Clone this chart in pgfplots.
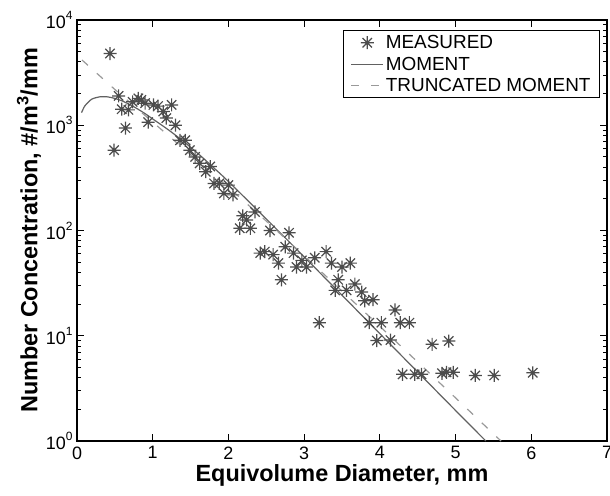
\documentclass[border=0pt]{standalone}
\usepackage{fontspec}
\setmainfont{Liberation Sans}
\usepackage{pgfplots}
\pgfplotsset{compat=1.18}
\pgfdeclareplotmark{ast8}{%
 \pgfpathmoveto{\pgfqpoint{-\pgfplotmarksize}{0pt}}\pgfpathlineto{\pgfqpoint{\pgfplotmarksize}{0pt}}%
 \pgfpathmoveto{\pgfqpoint{0pt}{-\pgfplotmarksize}}\pgfpathlineto{\pgfqpoint{0pt}{\pgfplotmarksize}}%
 \pgfpathmoveto{\pgfqpoint{-0.72\pgfplotmarksize}{-0.72\pgfplotmarksize}}\pgfpathlineto{\pgfqpoint{0.72\pgfplotmarksize}{0.72\pgfplotmarksize}}%
 \pgfpathmoveto{\pgfqpoint{-0.72\pgfplotmarksize}{0.72\pgfplotmarksize}}\pgfpathlineto{\pgfqpoint{0.72\pgfplotmarksize}{-0.72\pgfplotmarksize}}%
 \pgfusepathqstroke}
\definecolor{markc}{gray}{0.30}
\definecolor{solidc}{gray}{0.38}
\definecolor{dashc}{gray}{0.60}
\newcommand\tk[1]{\mbox{\fontsize{18}{20}\selectfont #1}}
\newcommand\ytk[1]{\mbox{\fontsize{18}{20}\selectfont 10\raisebox{0.5em}{\fontsize{12}{13}\selectfont #1}}}
\pgfplotsset{
 linelegend/.style={legend image code/.code={\draw[##1] (0bp,0bp) -- (32bp,0bp);}},
 marklegend/.style={legend image code/.code={\draw[##1] plot coordinates {(16bp,0bp)};}}
}
\begin{document}
\begin{tikzpicture}
\begin{axis}[name=ax, scale only axis, width=530bp, height=421bp,
  ymode=log, xmin=0, xmax=7, ymin=1, ymax=10000,
  xtick={0,1,2,3,4,5,6,7}, minor x tick num=0,
  xticklabels={\tk{0},\tk{1},\tk{2},\tk{3},\tk{4},\tk{5},\tk{6},\tk{7}},
  ytick={1,10,100,1000,10000},
  yticklabels={\ytk{0},\ytk{1},\ytk{2},\ytk{3},\ytk{4}},
  minor ytick={2,3,4,5,6,7,8,9,20,30,40,50,60,70,80,90,200,300,400,500,600,700,800,900,2000,3000,4000,5000,6000,7000,8000,9000},
  tick align=inside, xtick pos=both, ytick pos=both,
  major tick length=7bp, minor tick length=4bp,
  axis line style={line width=1.1bp},
  every tick/.style={black, line width=0.9bp},
  xticklabel style={yshift=-2bp},
  yticklabel style={xshift=-1bp},
  xlabel={Equivolume Diameter, mm},
  ylabel={Number Concentration, \#/m\textsuperscript{3}/mm},
  label style={font=\fontsize{23.5}{25}\selectfont\bfseries},
  xlabel style={yshift=2bp},
  ylabel style={yshift=-2bp},
  legend style={at={(1,1)}, anchor=north east, xshift=-7bp, yshift=-10bp,
    draw=black, line width=0.9bp, font=\fontsize{19}{21}\selectfont,
    cells={anchor=west}, row sep=3bp, inner xsep=7bp, inner ysep=3bp,
    nodes={inner sep=2bp, text height=13.5bp, text depth=1bp}},
]
\addplot[only marks, mark=ast8, mark size=6.5bp, markc, mark options={line width=1.2bp}, marklegend]
 table {
x y
0.436 4800
0.49 580
0.55 1900
0.59 1420
0.68 1400
0.64 940
0.735 1670
0.81 1800
0.85 1740
0.94 1070
0.90 1620
1.01 1560
1.07 1520
1.14 1350
1.25 1560
1.18 1170
1.30 1000
1.36 720
1.43 720
1.49 580
1.56 500
1.62 435
1.70 362
1.76 405
1.81 280
1.88 280
1.94 225
2.00 270
2.06 218
2.15 105
2.19 138
2.24 126
2.29 105
2.35 150
2.55 100
2.80 95
2.42 61
2.48 63
2.59 59
2.66 49
2.75 70
2.86 61
2.90 45
2.97 52
3.03 45
3.14 55
3.29 63
3.36 49
3.50 45
3.61 49
2.70 34
3.45 34
3.67 31
3.41 27
3.56 27
3.20 13.3
3.76 26
3.80 21.5
3.91 22
4.20 17.6
3.86 13.3
4.02 13.3
4.27 13.3
4.39 13.3
3.96 9.0
4.14 9.1
4.69 8.3
4.91 8.9
4.30 4.3
4.46 4.3
4.55 4.3
4.82 4.4
4.88 4.5
4.97 4.5
5.26 4.2
5.51 4.2
6.02 4.45
};
\addlegendentry{MEASURED}
\addplot[solidc, line width=1.2bp, smooth, no marks, linelegend]
 table {
x y
0.06 1318
0.10 1514
0.15 1660
0.20 1778
0.30 1862
0.40 1862
0.50 1799
0.60 1698
0.70 1567
0.80 1429
0.90 1288
1.00 1148
1.20 912
1.40 708
1.60 537
1.80 398
2.00 292
2.50 128.8
3.00 56.2
3.50 24.3
4.00 10.47
4.50 4.52
5.00 1.95
5.40 1.0
};
\addlegendentry{MOMENT}
\addplot[dashc, line width=1.2bp, dash pattern=on 8bp off 12bp, no marks, linelegend]
 table {
x y
0.066 4169
0.5 2188
1.0 1072
1.5 525
2.0 257
2.5 123
3.0 57.5
3.5 26.6
4.0 12.3
4.5 5.62
5.0 2.57
5.6 1.0
};
\addlegendentry{TRUNCATED MOMENT}
\end{axis}
\pgfresetboundingbox
\path[use as bounding box] ([shift={(-77bp,-54bp)}]ax.south west) rectangle ([shift={(3bp,20bp)}]ax.north east);
\end{tikzpicture}
\end{document}
